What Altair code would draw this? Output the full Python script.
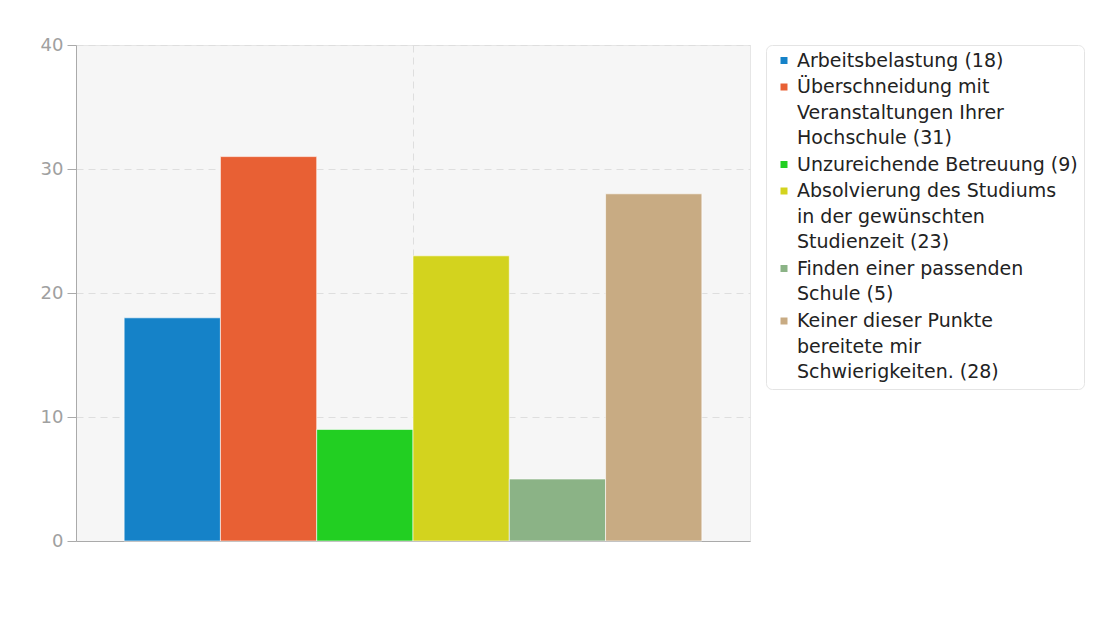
import altair as alt
import pandas as pd

# --- data -------------------------------------------------------------
categories = [
    "Arbeitsbelastung",
    "Überschneidung mit Veranstaltungen Ihrer Hochschule",
    "Unzureichende Betreuung",
    "Absolvierung des Studiums in der gewünschten Studienzeit",
    "Finden einer passenden Schule",
    "Keiner dieser Punkte bereitete mir Schwierigkeiten.",
]
values = [18, 31, 9, 23, 5, 28]
# how each legend entry wraps (text lines, count appended to the last line)
wrapped = [
    ["Arbeitsbelastung"],
    ["Überschneidung mit", "Veranstaltungen Ihrer", "Hochschule"],
    ["Unzureichende Betreuung"],
    ["Absolvierung des Studiums", "in der gewünschten", "Studienzeit"],
    ["Finden einer passenden", "Schule"],
    ["Keiner dieser Punkte", "bereitete mir", "Schwierigkeiten."],
]
colors = ["#1582c8", "#e86034", "#22cf22", "#d3d31e", "#8bb386", "#c8ab83"]
y_ticks = [0, 10, 20, 30, 40]

legend_labels = []
for lines, v in zip(wrapped, values):
    ls = list(lines)
    ls[-1] = f"{ls[-1]} ({v})"
    legend_labels.append("|".join(ls))

df = pd.DataFrame({
    "group": ["" for _ in categories],
    "category": categories,
    "legend": legend_labels,
    "value": values,
})

FONT = "DejaVu Sans"

bars = alt.Chart(df).mark_bar(
    stroke="white", strokeWidth=1, strokeOpacity=0.6
).encode(
    x=alt.X(
        "group:N",
        title=None,
        scale=alt.Scale(paddingInner=0, paddingOuter=0),
        axis=alt.Axis(
            labels=False, ticks=False, grid=True, bandPosition=0.5,
            gridDash=[7, 5], gridColor="#dedede", domainColor="#aaaaaa",
        ),
    ),
    xOffset=alt.XOffset(
        "legend:N", sort=legend_labels,
        scale=alt.Scale(paddingInner=0, paddingOuter=0.5),
    ),
    y=alt.Y(
        "value:Q",
        title=None,
        scale=alt.Scale(domain=[0, 40], nice=False),
        axis=alt.Axis(
            values=y_ticks, grid=True, gridDash=[7, 5], gridColor="#dedede",
            tickSize=9, tickColor="#aaaaaa", domainColor="#aaaaaa",
            labelColor="#a0a0a0", labelFont=FONT, labelFontSize=18, labelPadding=4,
        ),
    ),
    color=alt.Color(
        "legend:N",
        sort=legend_labels,
        scale=alt.Scale(domain=legend_labels, range=colors),
        legend=alt.Legend(
            title=None,
            orient="none",
            legendX=690,
            legendY=0,
            padding=6,
            strokeColor="#e4e4e4",
            fillColor="white",
            cornerRadius=6,
            symbolType="square",
            symbolSize=49,
            symbolStrokeWidth=0,
            symbolOffset=2.5,
            labelFont=FONT,
            labelFontSize=19,
            labelColor="#222222",
            labelLimit=400,
            labelOffset=3.5,
            rowPadding=6.5,
            labelExpr="split(datum.label, '|')",
        ),
    ),
).properties(
    width=674,
    height=496,
    padding={"left": 68, "top": 37, "right": 342, "bottom": 40},
    autosize=alt.AutoSizeParams(type="none"),
)

chart = bars.configure(
    style={"guide-label": {"lineHeight": 25.7}}
).configure_view(
    fill="#f6f6f6", stroke="#e6e6e6"
)
chart.save("out.html", embed_options={"renderer": "svg", "actions": False})
